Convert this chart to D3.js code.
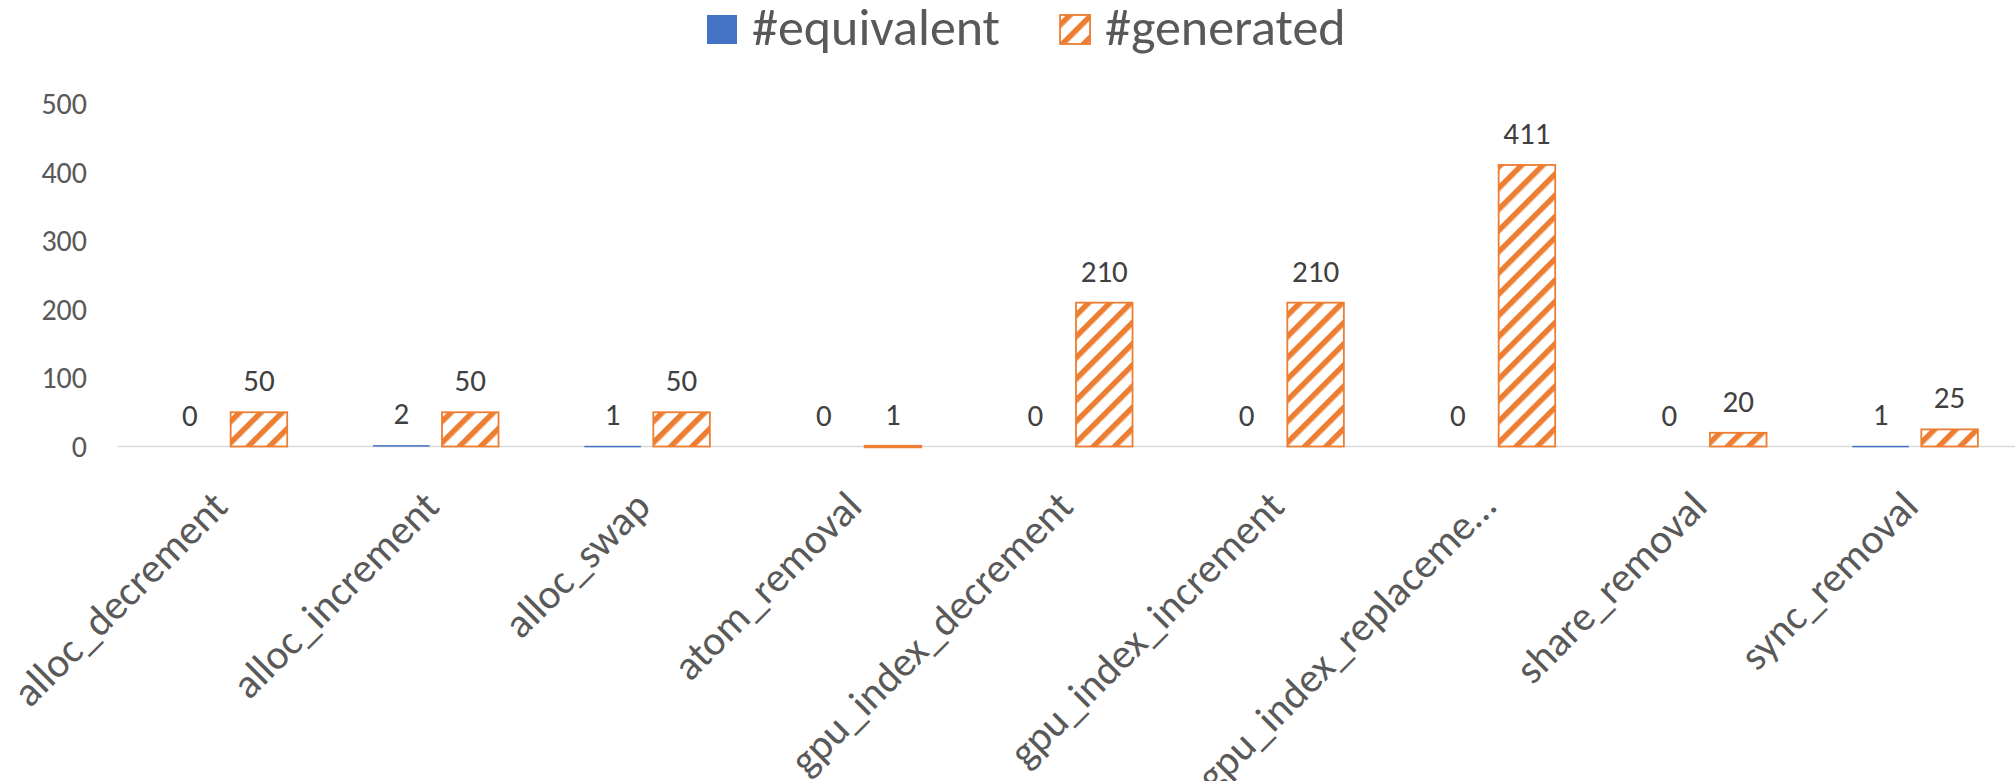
<!DOCTYPE html>
<html>
<head>
<meta charset="utf-8">
<script src="https://cdn.jsdelivr.net/npm/d3@7"></script>
<style>
  body { margin: 0; background: #fff; }
  svg text { font-family: Carlito, Lato, "Noto Sans", sans-serif; }
</style>
</head>
<body>
<div id="wrapper"></div>
<script>
const categories = ["alloc_decrement", "alloc_increment", "alloc_swap", "atom_removal",
    "gpu_index_decrement", "gpu_index_increment", "gpu_index_replacement",
    "share_removal", "sync_removal"]
const equivalent = [0, 2, 1, 0, 0, 0, 0, 0, 1]
const generated = [50, 50, 50, 1, 210, 210, 411, 20, 25]
const seriesNames = ["#equivalent", "#generated"]
const yTicks = [0, 100, 200, 300, 400, 500]

const blue = "#4472C4"
const orange = "#ED7D31"

const dimensions = {
    width: 2015,
    height: 781,
    left: 118,
    right: 2020,
    top: 104,
    baseline: 446.5,
}

const data = categories.map((c, i) => ({
    category: c,
    values: [
        {key: "equivalent", value: equivalent[i]},
        {key: "generated", value: generated[i]},
    ]
}))

const svg = d3.select("#wrapper")
    .append("svg")
        .attr("width", dimensions.width)
        .attr("height", dimensions.height)

// hatched fill for #generated
const defs = svg.append("defs")
const pattern = defs.append("pattern")
    .attr("id", "hatch")
    .attr("patternUnits", "userSpaceOnUse")
    .attr("width", 15)
    .attr("height", 15)
    .attr("patternTransform", "rotate(45)")
pattern.append("rect")
    .attr("width", 15).attr("height", 15).attr("fill", "#fff")
pattern.append("rect")
    .attr("width", 5.5).attr("height", 15).attr("fill", orange)

const fillFor = key => key === "equivalent" ? blue : "url(#hatch)"

const xScale = d3.scaleBand()
    .domain(categories)
    .range([dimensions.left, dimensions.right])

const innerScale = d3.scaleBand()
    .domain(["equivalent", "generated"])
    .range([43.7, 169.2])
    .paddingInner(0.18)

const yScale = d3.scaleLinear()
    .domain([0, 500])
    .range([dimensions.baseline, dimensions.top])

// y axis (labels only)
const yAxis = svg.append("g")
    .attr("transform", `translate(${dimensions.left}, 0)`)
    .call(d3.axisLeft(yScale).tickValues(yTicks).tickSize(0).tickPadding(31))
yAxis.select(".domain").remove()
yAxis.selectAll("text")
    .attr("fill", "#595959")
    .style("font-size", "30px")

// baseline
svg.append("line")
    .attr("x1", dimensions.left)
    .attr("x2", dimensions.width)
    .attr("y1", yScale(0))
    .attr("y2", yScale(0))
    .attr("stroke", "#D9D9D9")
    .attr("stroke-width", 1.5)

const groups = svg.append("g")
    .selectAll("g")
    .data(data)
    .join("g")
        .attr("transform", d => `translate(${xScale(d.category)}, 0)`)

groups.selectAll("rect")
    .data(d => d.values)
    .join("rect")
        .attr("x", d => innerScale(d.key))
        .attr("y", d => yScale(d.value))
        .attr("width", innerScale.bandwidth())
        .attr("height", d => Math.max(yScale(0) - yScale(d.value), d.value > 0 ? 1.5 : 0))
        .attr("fill", d => fillFor(d.key))
        .attr("stroke", d => d.key === "generated" ? orange : "none")
        .attr("stroke-width", 1.8)

groups.selectAll("text")
    .data(d => d.values)
    .join("text")
        .attr("x", d => innerScale(d.key) + innerScale.bandwidth() / 2)
        .attr("y", d => yScale(d.value) - 21)
        .attr("text-anchor", "middle")
        .attr("fill", "#404040")
        .style("font-size", "31px")
        .text(d => d.value)

// x axis labels, rotated
const shortLabel = s => s.length > 19 ? s.slice(0, 19) + "\u2026" : s
const xAxis = svg.append("g")
    .attr("transform", `translate(0, ${yScale(0)})`)
    .call(d3.axisBottom(xScale).tickSize(0).tickFormat(shortLabel))
xAxis.select(".domain").remove()
xAxis.selectAll("text")
    .attr("fill", "#595959")
    .style("font-size", "41.5px")
    .attr("text-anchor", "end")
    .attr("transform", "translate(-4, 52) rotate(-45)")
    .attr("x", 0)
    .attr("y", 0)
    .attr("dy", "0.35em")

// legend
const legend = svg.append("g")
const legendKeys = ["equivalent", "generated"]
let lx = 707
legendKeys.forEach((key, i) => {
    const item = legend.append("g").attr("transform", `translate(${lx}, 0)`)
    item.append("rect")
        .attr("x", 0).attr("y", 15)
        .attr("width", 30).attr("height", 29)
        .attr("fill", fillFor(key))
        .attr("stroke", key === "generated" ? orange : "none")
        .attr("stroke-width", 1.8)
    const label = item.append("text")
        .attr("x", 45)
        .attr("y", 45)
        .attr("fill", "#595959")
        .style("font-size", "52px")
        .text(seriesNames[i])
    lx += 45 + label.node().getComputedTextLength() + 60
})
</script>
</body>
</html>
